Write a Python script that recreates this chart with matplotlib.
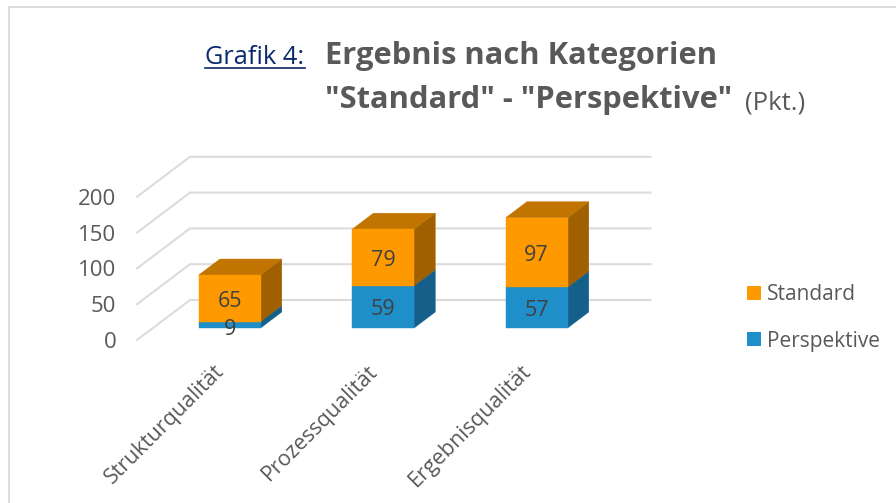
import matplotlib
matplotlib.use('Agg')
import matplotlib.pyplot as plt

from matplotlib.lines import Line2D
from matplotlib.patches import Patch, Polygon

categories = ['Strukturqualität', 'Prozessqualität', 'Ergebnisqualität']
perspektive = [9, 59, 57]
standard = [65, 79, 97]
y_ticks = [0, 50, 100, 150, 200]

W, H = 896, 503
# depth of the 3d box, expressed in data units
DEPTH_X = 53 / 153.5
DEPTH_Y = 40 / 0.716
BAR_WIDTH = 0.403
BAR_FRONT = 0.3
BAR_BACK = 0.7

TEXT = '#595959'
GRID = '#dcdcdc'


def project(x, y, depth):
    return x + depth * DEPTH_X, y + depth * DEPTH_Y


def draw_segment(ax, x, bottom, height, front, top, side):
    x0, x1 = x - BAR_WIDTH / 2, x + BAR_WIDTH / 2
    y0, y1 = bottom, bottom + height
    front_poly = [project(x0, y0, BAR_FRONT), project(x1, y0, BAR_FRONT),
                  project(x1, y1, BAR_FRONT), project(x0, y1, BAR_FRONT)]
    side_poly = [project(x1, y0, BAR_FRONT), project(x1, y0, BAR_BACK),
                 project(x1, y1, BAR_BACK), project(x1, y1, BAR_FRONT)]
    top_poly = [project(x0, y1, BAR_FRONT), project(x1, y1, BAR_FRONT),
                project(x1, y1, BAR_BACK), project(x0, y1, BAR_BACK)]
    for poly, color in ((side_poly, side), (top_poly, top), (front_poly, front)):
        ax.add_patch(Polygon(poly, closed=True, facecolor=color, edgecolor=color,
                             linewidth=0.3, clip_on=False, zorder=3))


def bar_label(ax, x, y, value, shift):
    ax.annotate(str(value), (x, y), xytext=(0, shift), textcoords='offset points',
                ha='center', va='center', fontsize=15.5, color='#404040', zorder=5)


plt.rcParams['font.family'] = ['Open Sans', 'DejaVu Sans']
fig = plt.figure(figsize=(W / 100, H / 100), dpi=100)

# pixel position of the floor front edge
ax = fig.add_axes([137 / W, 1 - 340 / H, 460.5 / W, 143.2 / H])
ax.set_xlim(-0.5, 2.5)
ax.set_ylim(0, 200)
for spine in ax.spines.values():
    spine.set_visible(False)
ax.patch.set_visible(False)

for v in y_ticks:
    ax.plot(*zip(project(-0.5, v, 0), project(-0.5, v, 1), project(2.5, v, 1)),
            color=GRID, lw=1.5, clip_on=False, zorder=1, solid_joinstyle='miter')

for i in range(len(categories)):
    draw_segment(ax, i, 0, perspektive[i], '#1F8FC9', '#1A76A6', '#14608A')
    draw_segment(ax, i, perspektive[i], standard[i], '#FF9900', '#C27400', '#A16000')

for i in range(len(categories)):
    lx, ly = project(i, 0, BAR_FRONT)
    bar_label(ax, lx, ly + perspektive[i] / 2, perspektive[i], -3.5 if perspektive[i] < 20 else -2)
    bar_label(ax, lx, ly + perspektive[i] + standard[i] / 2, standard[i], -2)

ax.set_yticks(y_ticks)
ax.set_xticks(range(len(categories)))
ax.set_xticklabels(categories, rotation=45, ha='right', rotation_mode='anchor')
ax.tick_params(axis='y', length=0, pad=15, labelsize=16, labelcolor=TEXT)
ax.tick_params(axis='x', length=0, pad=15, labelsize=15.5, labelcolor=TEXT)

handles = [Patch(facecolor='#FF9900', label='Standard'),
           Patch(facecolor='#1F8FC9', label='Perspektive')]
fig.legend(handles=handles, loc='center left', bbox_to_anchor=(747 / W, 1 - 318 / H),
           frameon=False, fontsize=15, labelcolor=TEXT, handlelength=0.67, handleheight=0.67,
           handletextpad=0.3, labelspacing=1.22, borderpad=0, borderaxespad=0)

# title block
fig.text(205 / W, 1 - 57 / H, 'Grafik 4:', fontsize=18.3, color='#0B2A6B', va='center', ha='left')
fig.add_artist(Line2D([205 / W, 305 / W], [1 - 68 / H, 1 - 68 / H], color='#0B2A6B', lw=1.2))
fig.text(325 / W, 1 - 56 / H, 'Ergebnis nach Kategorien', fontsize=22.2, fontweight='bold',
         color=TEXT, va='center', ha='left')
fig.text(325 / W, 1 - 100 / H, '"Standard" - "Perspektive"', fontsize=22.2, fontweight='bold',
         color=TEXT, va='center', ha='left')
fig.text(745 / W, 1 - 103 / H, '(Pkt.)', fontsize=18.5, color=TEXT, va='center', ha='left')

# outer frame, only top and left are visible in the crop
fig.add_artist(Line2D([8.5 / W, 8.5 / W, 1], [0, 1 - 6.5 / H, 1 - 6.5 / H], color='#dddddd', lw=1.5))

fig.savefig('out.png', dpi=100)
